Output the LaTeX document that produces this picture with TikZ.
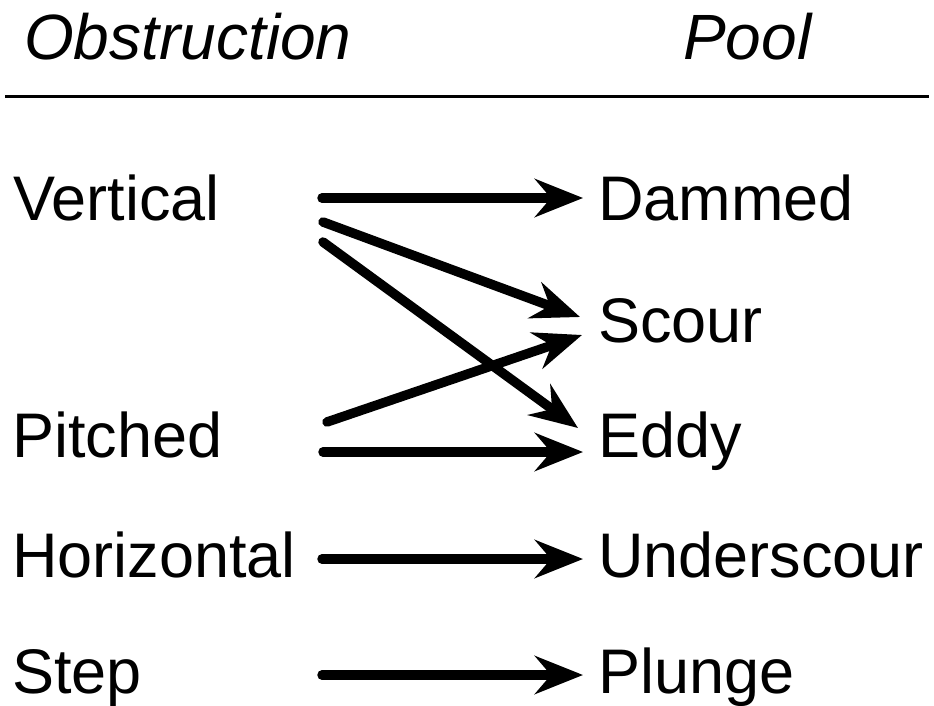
\documentclass[tikz,border=0pt]{standalone}
\usepackage{fontspec}
\setmainfont{Liberation Sans}
\usetikzlibrary{arrows.meta,positioning}

\begin{document}
\begin{tikzpicture}[
  x=1pt, y=-1pt,
  lbl/.style={anchor=base west, inner sep=0pt, font=\fontsize{63}{72}\selectfont},
  head/.style={lbl, font=\fontsize{64}{72}\selectfont\itshape},
  arr/.style={-{Stealth[length=48pt, width=38pt, inset=16pt]}, line width=9.5pt, line cap=round}
]
\useasboundingbox (0,0) rectangle (934,706);

% Header
\node[head] (obs) at (24,60) {Obstruction};
\node[head] (pool) at (683,60) {Pool};
\draw[line width=3pt] (5,97) coordinate (ruleL) -- (929,97) coordinate (ruleR);

% Obstruction types
\node[lbl] (vert) at (13,220) {Vertical};
\node[lbl] (pitch) at (12,457) {Pitched};
\node[lbl] (horiz) at (12,577) {Horizontal};
\node[lbl] (stepo) at (12,693) {Step};

% Pool types
\node[lbl] (dammed) at (598,220) {Dammed};
\node[lbl] (scour) at (598,342) {Scour};
\node[lbl] (eddy) at (598,457) {Eddy};
\node[lbl] (under) at (598,577) {Underscour};
\node[lbl] (plunge) at (598,693) {Plunge};

% Arrow ends
\coordinate (vertA) at (322,198);
\coordinate (vertB) at (323,222);
\coordinate (vertC) at (323,242);
\coordinate (pitchA) at (327,422);
\coordinate (pitchB) at (323,452);
\coordinate (horizA) at (322,559);
\coordinate (stepA) at (322,675);
\coordinate (dammedIn) at (583,198);
\coordinate (scourInA) at (580,317);
\coordinate (scourInB) at (582,335);
\coordinate (eddyInA) at (578,428);
\coordinate (eddyInB) at (583,452);
\coordinate (underIn) at (583,559);
\coordinate (plungeIn) at (583,675);

% Arrows
\draw[arr] (vertA) -- (dammedIn);
\draw[arr] (vertB) -- (scourInA);
\draw[arr] (vertC) -- (eddyInA);
\draw[arr] (pitchA) -- (scourInB);
\draw[arr] (pitchB) -- (eddyInB);
\draw[arr] (horizA) -- (underIn);
\draw[arr] (stepA) -- (plungeIn);

\end{tikzpicture}
\end{document}
